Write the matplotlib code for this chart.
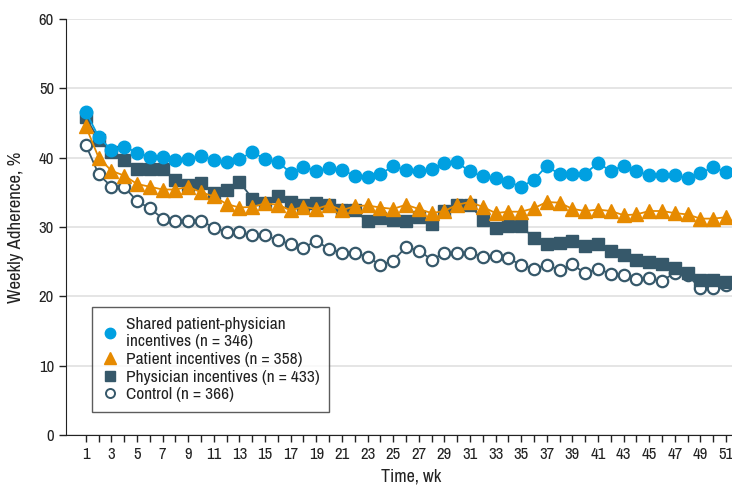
import matplotlib
matplotlib.use("Agg")
import matplotlib.pyplot as plt
from matplotlib.lines import Line2D
from matplotlib import font_manager
import numpy as np

names = sorted({f.name for f in font_manager.fontManager.ttflist})
cond = [n for n in names if ('Condensed' in n or 'Narrow' in n)]
base = ['Liberation Sans', 'DejaVu Sans']
fam = ([cond[0]] if cond else []) + base
plt.rcParams['font.family'] = fam

weeks = list(range(1, 52))

shared = [46.6, 43.0, 41.1, 41.6, 40.7, 40.1, 40.1, 39.7, 39.8, 40.3,
          39.6, 39.3, 39.8, 40.8, 39.8, 39.4, 37.8, 38.7, 38.1, 38.5,
          38.2, 37.4, 37.2, 37.6, 38.8, 38.2, 38.0, 38.4, 39.2, 39.3,
          38.0, 37.3, 37.1, 36.5, 35.8, 36.8, 38.8, 37.6, 37.7, 37.7,
          39.2, 38.1, 38.8, 38.0, 37.5, 37.5, 37.5, 37.0, 37.8, 38.6, 37.9]

patient = [44.5, 40.0, 38.1, 37.4, 36.2, 35.8, 35.4, 35.4, 35.8, 35.0,
           34.4, 33.3, 32.8, 32.9, 33.4, 33.2, 32.4, 32.9, 32.6, 33.2,
           32.4, 33.0, 33.1, 32.8, 32.6, 33.2, 32.6, 32.0, 32.3, 33.2,
           33.6, 32.9, 32.0, 32.2, 32.2, 32.7, 33.6, 33.5, 32.6, 32.3,
           32.5, 32.3, 31.7, 31.8, 32.3, 32.3, 32.0, 31.8, 31.2, 31.2, 31.4]

physician = [45.8, 42.6, 40.8, 39.7, 38.3, 38.3, 38.3, 36.8, 36.1, 36.3,
             34.9, 35.3, 36.5, 34.1, 33.5, 34.5, 33.6, 33.2, 33.4, 33.2,
             32.5, 32.4, 30.8, 31.3, 31.0, 30.9, 31.4, 30.4, 32.3, 33.1,
             33.2, 31.0, 29.9, 30.1, 30.1, 28.4, 27.5, 27.7, 28.0, 27.2,
             27.5, 26.6, 26.0, 25.2, 24.9, 24.7, 24.1, 23.3, 22.3, 22.3, 22.1]

control = [41.8, 37.6, 35.8, 35.8, 33.7, 32.7, 31.2, 30.9, 30.9, 30.9,
           29.9, 29.3, 29.3, 28.8, 28.8, 28.1, 27.5, 27.0, 28.0, 26.8,
           26.3, 26.3, 25.7, 24.5, 25.1, 27.1, 26.6, 25.3, 26.2, 26.3,
           26.3, 25.7, 25.8, 25.5, 24.5, 24.0, 24.5, 23.8, 24.6, 23.3,
           24.0, 23.2, 23.0, 22.5, 22.6, 22.2, 23.4, 23.0, 21.2, 21.2, 21.6]

labels = ["Shared patient-physician\nincentives (n = 346)",
          "Patient incentives (n = 358)",
          "Physician incentives (n = 433)",
          "Control (n = 366)"]

blue = "#00A0E1"
orange = "#E68A00"
slate = "#36586A"
txt = '#222222'

fig = plt.figure(figsize=(7.32, 4.87), dpi=100)
ax = fig.add_axes([0.090, 0.107, 0.910, 0.854])

ax.plot(weeks, control, color=slate, lw=1.3, marker='o', ms=8.2,
        mfc='white', mec=slate, mew=1.6, zorder=3)
ax.plot(weeks, physician, color=slate, lw=1.3, marker='s', ms=8.2,
        mfc=slate, mec=slate, zorder=4)
ax.plot(weeks, patient, color=orange, lw=1.3, marker='^', ms=9.5,
        mfc=orange, mec=orange, zorder=5)
ax.plot(weeks, shared, color=blue, lw=1.3, marker='o', ms=9,
        mfc=blue, mec=blue, zorder=6)

ax.set_xlim(-0.56, 51.47)
ax.set_ylim(0, 60)
ax.set_yticks(range(0, 61, 10))
ax.set_xticks(weeks)
ax.set_xticklabels([str(w) if w % 2 == 1 else "" for w in weeks])
ax.tick_params(axis='both', direction='out', length=5, width=1, labelsize=12,
               colors=txt)
ax.tick_params(axis='x', pad=4)
ax.grid(axis='y', color='#e3e3e3', lw=1.3, zorder=0)
ax.set_axisbelow(True)
for s in ['top', 'right']:
    ax.spines[s].set_visible(False)
ax.spines['left'].set_color(txt)
ax.spines['bottom'].set_color(txt)

ax.set_xlabel("Time, wk", fontsize=13, color=txt)
ax.xaxis.set_label_coords(0.518, -0.082)
ax.set_ylabel("Weekly Adherence, %", fontsize=13.5, color=txt)
ax.yaxis.set_label_coords(-0.063, 0.5)

handles = [
    Line2D([], [], ls='none', marker='o', ms=7.5, mfc=blue, mec=blue),
    Line2D([], [], ls='none', marker='^', ms=8.5, mfc=orange, mec=orange),
    Line2D([], [], ls='none', marker='s', ms=7, mfc=slate, mec=slate),
    Line2D([], [], ls='none', marker='o', ms=6.5, mfc='white', mec=slate, mew=1.4),
]
leg = ax.legend(handles, labels, loc='lower left', bbox_to_anchor=(0.039, 0.055),
                borderaxespad=0, frameon=True, fancybox=False,
                prop={'family': fam, 'size': 12.5},
                handlelength=1.0, handletextpad=0.4, labelspacing=0.15,
                borderpad=0.55)
leg.get_frame().set_edgecolor('#333333')
leg.get_frame().set_linewidth(1.0)
for t in leg.get_texts():
    t.set_color(txt)

fig.savefig("out.png", dpi=100)
